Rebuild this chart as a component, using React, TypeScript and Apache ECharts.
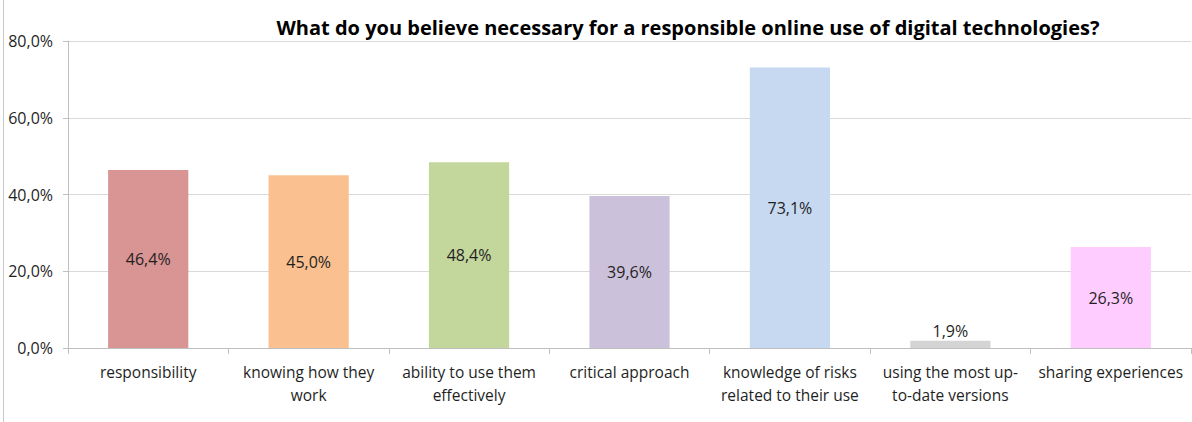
import React, { useEffect, useRef } from "react";
import * as echarts from "echarts";

const titleText = "What do you believe necessary for a responsible online use of digital technologies?";
const categories = [
  "responsibility",
  "knowing how they\nwork",
  "ability to use them\neffectively",
  "critical approach",
  "knowledge of risks\nrelated to their use",
  "using the most up-\nto-date versions",
  "sharing experiences",
];
const values = [46.4, 45.0, 48.4, 39.6, 73.1, 1.9, 26.3];
const barColors = ["#D99594", "#FAC090", "#C3D69B", "#CCC1DA", "#C6D9F1", "#D4D4D4", "#FFCCFF"];
const yTicks = [0, 20, 40, 60, 80];

const FONT = "'Open Sans', Lato, sans-serif";
const fmt = (v: number) => v.toFixed(1).replace(".", ",") + "%";

export default function App() {
  const ref = useRef<HTMLDivElement>(null);
  useEffect(() => {
    if (!ref.current) return;
    const chart = echarts.init(ref.current, undefined, { renderer: "svg" });
    chart.setOption({
      animation: false,
      backgroundColor: "#ffffff",
      title: {
        text: titleText,
        left: 683,
        textAlign: "center",
        top: 12,
        textStyle: { fontFamily: FONT, fontWeight: "bold", fontSize: 20, color: "#000" },
      },
      grid: { left: 68, right: 1, top: 41, bottom: 74, containLabel: false },
      xAxis: {
        type: "category",
        data: categories,
        axisLine: { show: true, lineStyle: { color: "#BFBFBF", width: 1 } },
        axisTick: { show: true, length: 6, alignWithLabel: false, lineStyle: { color: "#BFBFBF" } },
        axisLabel: {
          fontFamily: FONT,
          fontSize: 15.5,
          color: "#1F1F1F",
          lineHeight: 23,
          margin: 12,
          interval: 0,
        },
      },
      yAxis: {
        type: "value",
        min: 0,
        max: yTicks[yTicks.length - 1],
        interval: 20,
        axisLine: { show: true, lineStyle: { color: "#BFBFBF" } },
        axisTick: { show: true, length: 5, lineStyle: { color: "#BFBFBF" } },
        splitLine: { show: true, lineStyle: { color: "#D9D9D9", width: 1 } },
        axisLabel: {
          fontFamily: FONT,
          fontSize: 16,
          color: "#1F1F1F",
          margin: 15,
          formatter: (v: number) => fmt(v),
        },
      },
      series: [
        {
          type: "bar",
          barWidth: "50%",
          data: values.map((v, i) => ({
            value: v,
            itemStyle: { color: barColors[i] },
            label: v < 5 ? { position: "top", distance: 2 } : undefined,
          })),
          label: {
            show: true,
            position: "inside",
            fontFamily: FONT,
            fontSize: 16,
            color: "#1F1F1F",
            formatter: (p: any) => fmt(p.value),
          },
        },
      ],
      graphic: [
        {
          type: "line",
          shape: { x1: 3.5, y1: 0, x2: 3.5, y2: 422 },
          style: { stroke: "#C8C8C8", lineWidth: 1 },
        },
      ],
    });
    return () => chart.dispose();
  }, []);
  return (
    <div
      ref={ref}
      style={{ position: "absolute", left: 0, top: 0, width: 1192, height: 422 }}
    />
  );
}
